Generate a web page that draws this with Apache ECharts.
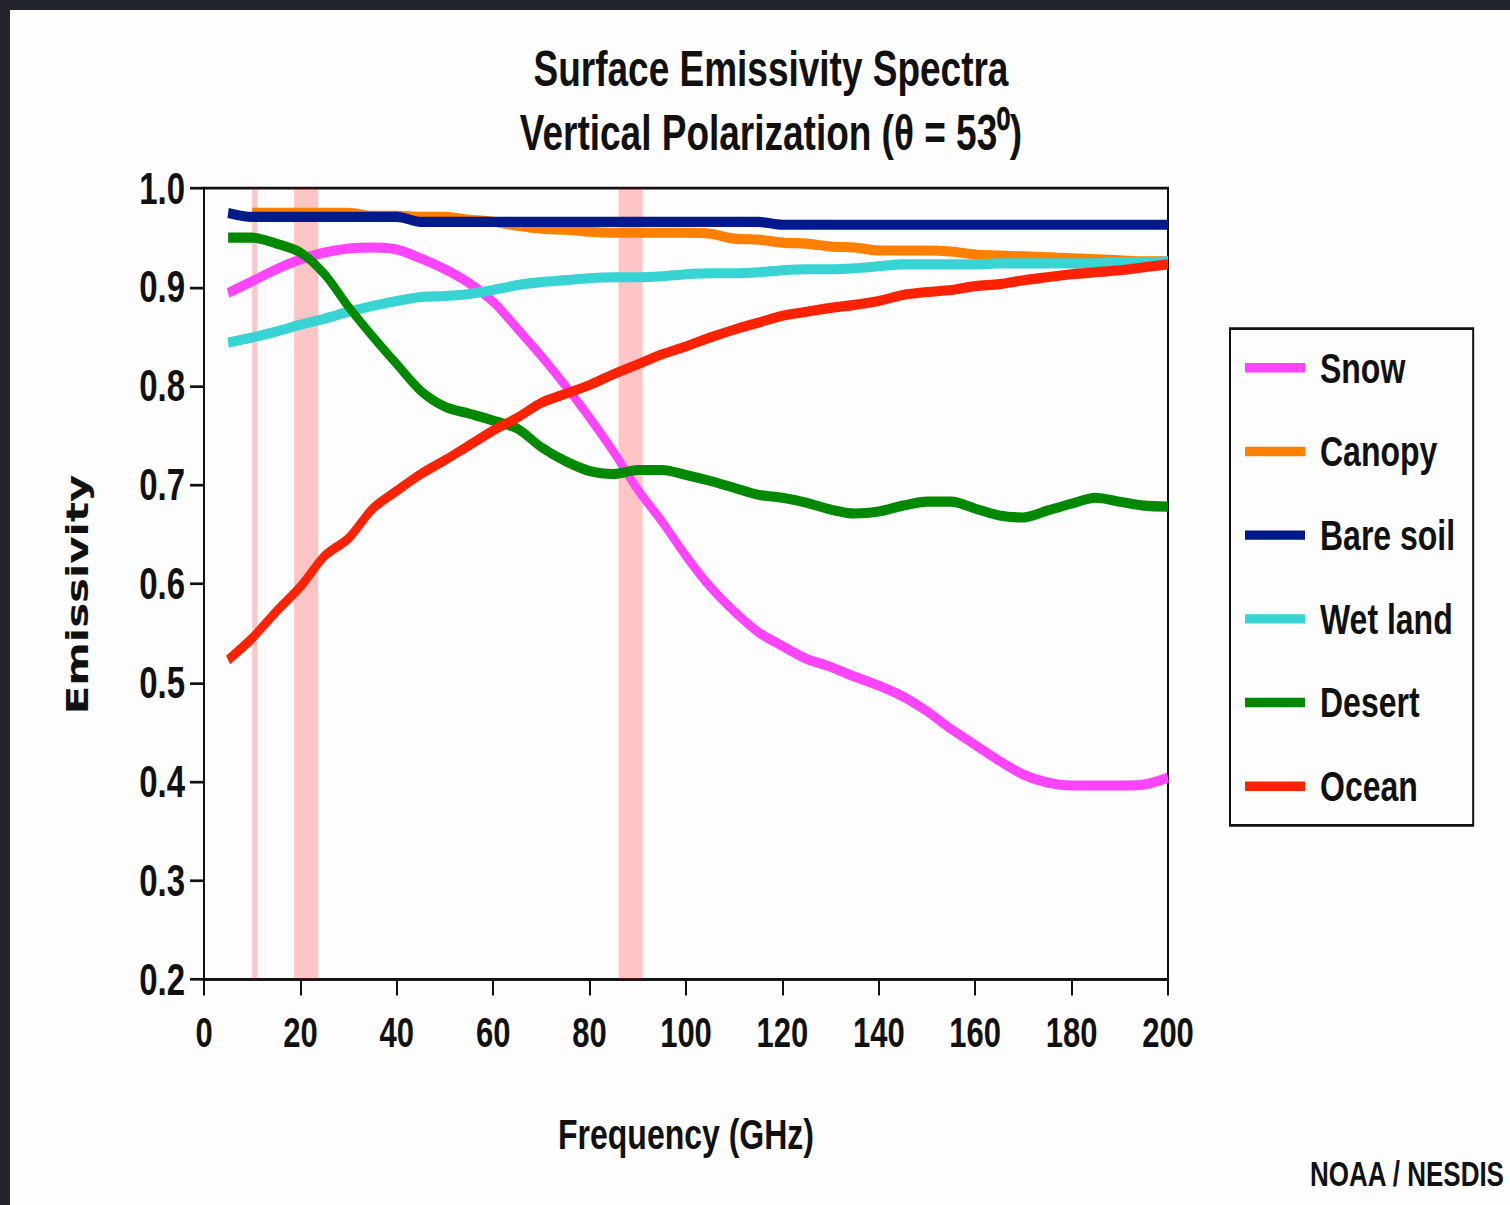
<!DOCTYPE html>
<html>
<head>
<meta charset="utf-8">
<script src="https://cdn.jsdelivr.net/npm/echarts@6/dist/echarts.min.js"></script>
<style>
html,body{margin:0;padding:0;background:#24242e;width:1510px;height:1205px;overflow:hidden;}
#wrap{position:absolute;left:10px;top:10px;width:1500px;height:1195px;background:#fdfdfd;overflow:hidden;}
#chart{width:1500px;height:885px;transform:scaleY(1.35);transform-origin:0 0;}
</style>
</head>
<body>
<div id="wrap"><div id="chart"></div></div>
<script>
const freq = [5,10,15,20,25,30,35,40,45,50,55,60,65,70,75,80,85,90,95,100,105,110,115,120,125,130,135,140,145,150,155,160,165,170,175,180,185,190,195,200];
const snow = [0.894,0.906,0.918,0.928,0.935,0.939,0.940,0.938,0.929,0.918,0.904,0.885,0.858,0.830,0.800,0.768,0.733,0.695,0.663,0.628,0.597,0.572,0.551,0.537,0.524,0.516,0.506,0.497,0.486,0.471,0.453,0.437,0.421,0.407,0.399,0.396,0.396,0.396,0.397,0.404];
const canopy = [null,0.975,0.975,0.975,0.975,0.975,0.972,0.972,0.971,0.971,0.968,0.966,0.962,0.959,0.958,0.956,0.955,0.955,0.955,0.955,0.954,0.949,0.948,0.945,0.944,0.941,0.940,0.937,0.937,0.937,0.936,0.933,0.932,0.931,0.930,0.929,0.928,0.927,0.926,0.926];
const bareSoil = [0.975,0.971,0.971,0.971,0.971,0.971,0.971,0.971,0.966,0.966,0.966,0.966,0.966,0.966,0.966,0.966,0.966,0.966,0.966,0.966,0.966,0.966,0.966,0.963,0.963,0.963,0.963,0.963,0.963,0.963,0.963,0.963,0.963,0.963,0.963,0.963,0.963,0.963,0.963,0.963];
const wetLand = [0.844,0.849,0.855,0.862,0.868,0.875,0.881,0.886,0.890,0.891,0.893,0.897,0.902,0.905,0.907,0.909,0.910,0.910,0.911,0.913,0.914,0.914,0.915,0.917,0.918,0.918,0.919,0.921,0.923,0.923,0.923,0.923,0.924,0.924,0.924,0.924,0.924,0.925,0.925,0.926];
const desert = [0.950,0.950,0.944,0.935,0.913,0.880,0.850,0.822,0.795,0.779,0.772,0.765,0.757,0.738,0.724,0.714,0.711,0.715,0.715,0.710,0.704,0.697,0.690,0.687,0.682,0.675,0.671,0.673,0.679,0.683,0.683,0.676,0.669,0.667,0.674,0.681,0.687,0.683,0.679,0.678];
const ocean = [0.523,0.545,0.572,0.597,0.628,0.646,0.676,0.694,0.711,0.725,0.740,0.755,0.768,0.783,0.792,0.801,0.812,0.822,0.832,0.840,0.849,0.857,0.864,0.871,0.875,0.879,0.882,0.886,0.892,0.895,0.897,0.901,0.903,0.907,0.910,0.913,0.915,0.917,0.920,0.923];
const bands = [[10,11],[18.7,23.7],[86,91]];
const seriesNames = ['Snow','Canopy','Bare soil','Wet land','Desert','Ocean'];
const seriesColors = ['#ff44ff','#ff7f00','#001a8c','#38d3d3','#008800','#ff2200'];
const titleLines = ['Surface Emissivity Spectra','Vertical Polarization (\u03B8 = 53\u2070)'];
const xName = 'Frequency (GHz)';
const yName = 'Emissivity';
const credit = 'NOAA / NESDIS';

const FONT = "'Liberation Sans',Arial,Helvetica,sans-serif";
const values = [snow, canopy, bareSoil, wetLand, desert, ocean];

const chart = echarts.init(document.getElementById('chart'), null, {renderer:'svg'});
const series = seriesNames.map((n,i)=>({
  name:n, type:'line', showSymbol:false, symbol:'none', smooth:0.3,
  data: freq.map((f,j)=>[f, values[i][j]]),
  lineStyle:{color:seriesColors[i], width:7.5},
  itemStyle:{color:seriesColors[i]},
  z: 2 + i
}));
series.push({
  name:'bands', type:'line', data:[], z:20, silent:true,
  markArea:{silent:true, itemStyle:{color:'rgba(255,0,0,0.22)'},
    data: bands.map(b=>[{xAxis:b[0]},{xAxis:b[1]}])}
});

chart.setOption({
  animation:false,
  backgroundColor:'transparent',
  title:{
    text: titleLines.join('\n'),
    left: 756, top: 15, textAlign:'center',
    textStyle:{fontFamily:FONT, fontWeight:'bold', fontSize:37, lineHeight:47, color:'#111'}
  },
  grid:{left:194, top:132, width:964, height:586, show:true, borderColor:'#111', borderWidth:2, backgroundColor:'transparent'},
  legend:{
    orient:'vertical', left:1220, top:236,
    data: seriesNames,
    icon:'rect', itemWidth:60, itemHeight:7, itemGap:30,
    padding:[13,18,13,15],
    borderColor:'#111', borderWidth:2, backgroundColor:'#fdfdfd',
    textStyle:{fontFamily:FONT, fontWeight:'bold', fontSize:32, color:'#111', padding:[0,0,0,10]}
  },
  xAxis:{
    type:'value', min:0, max:200, interval:20,
    name:xName, nameLocation:'middle', nameGap:99,
    nameTextStyle:{fontFamily:FONT, fontWeight:'bold', fontSize:32, color:'#111'},
    axisLine:{show:true, onZero:false, lineStyle:{color:'#111', width:2}},
    axisTick:{show:true, length:12, lineStyle:{color:'#111', width:2}},
    axisLabel:{margin:24, fontFamily:FONT, fontWeight:'bold', fontSize:31, color:'#111'},
    splitLine:{show:false}
  },
  yAxis:{
    type:'value', min:0.2, max:1.0, interval:0.1,
    name:yName, nameLocation:'middle', nameGap:111, nameRotate:90,
    nameTextStyle:{fontFamily:"'DejaVu Sans',sans-serif", fontWeight:'bold', fontSize:31, color:'#111', padding:[0,16,0,0]},
    axisLine:{show:true, lineStyle:{color:'#111', width:2}},
    axisTick:{show:true, length:14, lineStyle:{color:'#111', width:2}},
    axisLabel:{margin:19, fontFamily:FONT, fontWeight:'bold', fontSize:33, color:'#111',
      formatter:v=>v.toFixed(1)},
    splitLine:{show:false}
  },
  graphic:[{
    type:'text', right:5, top:849,
    style:{text:credit, font:"bold 26px "+FONT, fill:'#111'}
  }],
  series: series
});
</script>
</body>
</html>
